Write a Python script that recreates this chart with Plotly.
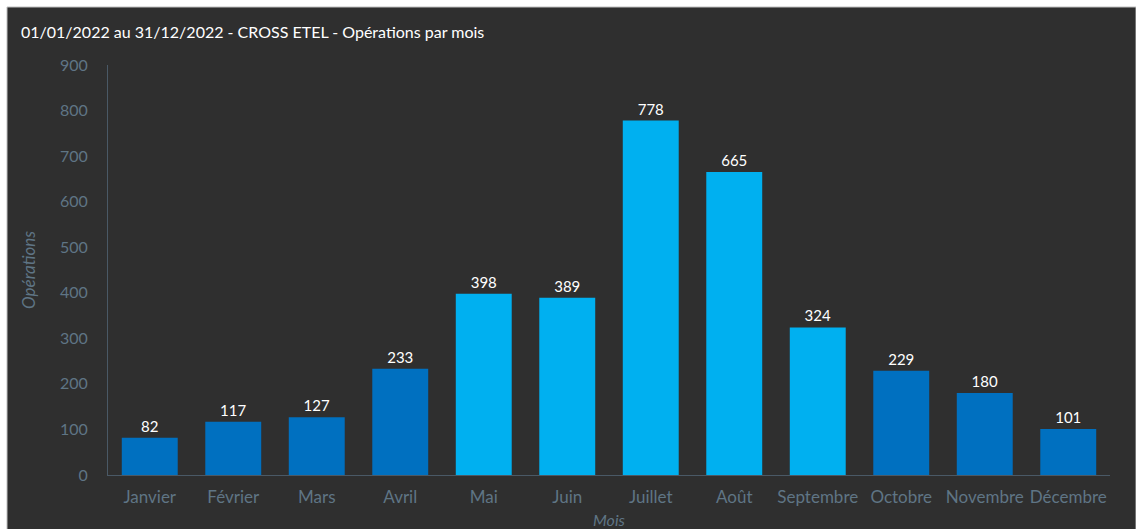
import plotly.graph_objects as go

# Monthly operations, CROSS Etel, 2022
mois = ["Janvier", "Février", "Mars", "Avril", "Mai", "Juin", "Juillet",
        "Août", "Septembre", "Octobre", "Novembre", "Décembre"]
operations = [82, 117, 127, 233, 398, 389, 778, 665, 324, 229, 180, 101]
couleurs = ["#0070C0", "#0070C0", "#0070C0", "#0070C0",
            "#00B0F0", "#00B0F0", "#00B0F0", "#00B0F0", "#00B0F0",
            "#0070C0", "#0070C0", "#0070C0"]
y_ticks = [0, 100, 200, 300, 400, 500, 600, 700, 800, 900]

FOND = "#2f2f2f"
GRIS = "#5f7585"
FONT = "Lato"

W, H = 1136, 529
L, R, T, B = 108, 26, 65, 54
pw, ph = W - L - R, H - T - B

fig = go.Figure(go.Bar(
    x=mois, y=operations,
    marker=dict(color=couleurs, line=dict(width=0)),
    text=[str(v) for v in operations],
    textposition="outside",
    textfont=dict(color="#ffffff", size=15, family=FONT),
    cliponaxis=False,
    hoverinfo="x+y",
))

# dark card with a thin white margin on the top and left edges
fig.add_shape(type="rect", xref="paper", yref="paper", layer="below",
              x0=(7 - L) / pw, x1=(W - L) / pw,
              y0=-B / ph - 0.01, y1=((H - B) - 7) / ph,
              fillcolor=FOND, line=dict(color="#bfbfbf", width=1))

# vertical axis title, placed in the left margin
fig.add_annotation(text="<i>Opérations</i>", xref="paper", yref="paper",
                   x=(28 - L) / pw, y=0.5, xanchor="center", yanchor="middle",
                   textangle=-90, showarrow=False,
                   font=dict(size=17, color=GRIS, family=FONT))

fig.update_layout(
    width=W, height=H,
    margin=dict(l=L, r=R, t=T, b=B, autoexpand=False),
    paper_bgcolor="#ffffff",
    plot_bgcolor=FOND,
    bargap=0.33,
    showlegend=False,
    font=dict(family=FONT, color=GRIS),
    title=dict(text="01/01/2022 au 31/12/2022 - CROSS ETEL - Opérations par mois",
               x=21 / W, xanchor="left", y=1 - 32 / H, yanchor="middle",
               font=dict(size=16, color="#ffffff", family=FONT)),
    xaxis=dict(
        automargin=False,
        showgrid=False, showline=True, linecolor="#4a5966", linewidth=1,
        ticks="outside", ticklen=7, tickcolor="rgba(0,0,0,0)",
        tickfont=dict(size=17, color=GRIS, family=FONT),
        title=dict(text="<i>Mois</i>", font=dict(size=16, color=GRIS, family=FONT), standoff=10),
    ),
    yaxis=dict(
        automargin=False,
        range=[0, 900], tickvals=y_ticks, showgrid=False, zeroline=False,
        showline=True, linecolor="#4a5966", linewidth=1,
        ticks="outside", ticklen=16, tickcolor="rgba(0,0,0,0)",
        tickfont=dict(size=16, color=GRIS, family=FONT),
    ),
)

fig.write_html("out.html")
